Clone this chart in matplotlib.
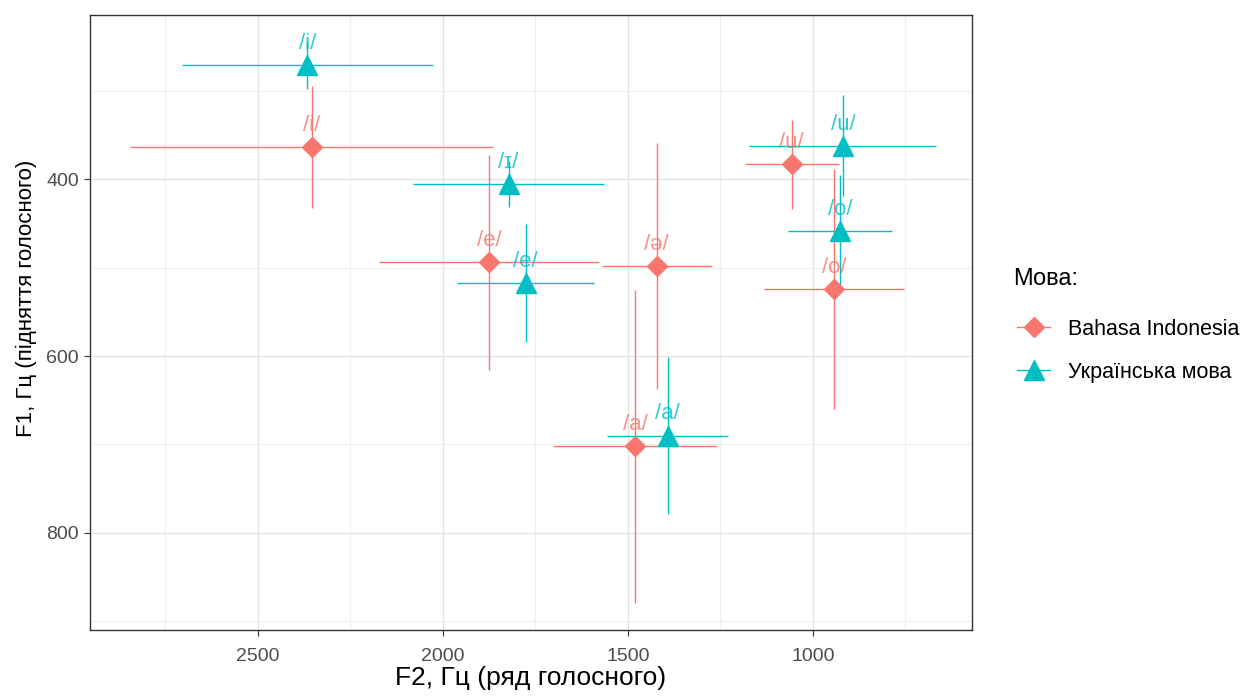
import matplotlib
matplotlib.use("Agg")
import matplotlib.pyplot as plt
from matplotlib.lines import Line2D
from matplotlib.ticker import FixedLocator

plt.rcParams['font.family'] = ['Liberation Sans', 'DejaVu Sans']

# Bahasa Indonesia
vowels_id = ['/i/', '/e/', '/ə/', '/a/', '/u/', '/o/']
f2_id = [2354, 1875, 1422, 1480, 1057, 943]
f2_sd_id = [490, 297, 149, 221, 127, 188]
f1_id = [363, 494, 498, 702, 383, 524]
f1_sd_id = [69, 122, 139, 177, 50, 136]

# Українська мова
vowels_ua = ['/i/', '/ɪ/', '/e/', '/a/', '/u/', '/o/']
f2_ua = [2366, 1822, 1776, 1392, 919, 926]
f2_sd_ua = [339, 257, 186, 164, 253, 140]
f1_ua = [271, 405, 517, 690, 362, 459]
f1_sd_ua = [27, 26, 67, 89, 57, 64]

languages = ['Bahasa Indonesia', 'Українська мова']
legend_title = 'Мова:'

col_id = '#F8766D'
col_ua = '#00BFC4'

W, H = 1243, 698
fig = plt.figure(figsize=(W/100, H/100), dpi=100)
ax = fig.add_axes([90/W, 1-630/H, (972-90)/W, (630-15)/H])

ax.errorbar(f2_id, f1_id, xerr=f2_sd_id, yerr=f1_sd_id, fmt='D', color=col_id,
            ms=10, elinewidth=1.0, capsize=0, zorder=3)
ax.errorbar(f2_ua, f1_ua, xerr=f2_sd_ua, yerr=f1_sd_ua, fmt='^', color=col_ua,
            ms=14, elinewidth=1.0, capsize=0, zorder=3)

for v, x, y in zip(vowels_id, f2_id, f1_id):
    ax.annotate(v, (x, y), xytext=(0, 8), textcoords='offset points',
                ha='center', va='bottom', fontsize=16, color=col_id, alpha=0.8, zorder=4)
for v, x, y in zip(vowels_ua, f2_ua, f1_ua):
    ax.annotate(v, (x, y), xytext=(0, 8), textcoords='offset points',
                ha='center', va='bottom', fontsize=16, color=col_ua, alpha=0.8, zorder=4)

ax.set_xlim(2953, 570)
ax.set_ylim(910, 214)
ax.xaxis.set_major_locator(FixedLocator([2500, 2000, 1500, 1000]))
ax.xaxis.set_minor_locator(FixedLocator([2750, 2250, 1750, 1250, 750]))
ax.yaxis.set_major_locator(FixedLocator([400, 600, 800]))
ax.yaxis.set_minor_locator(FixedLocator([300, 500, 700, 900]))
ax.grid(True, which='major', color='#E3E3E3', lw=1.0, zorder=0)
ax.grid(True, which='minor', color='#EEEEEE', lw=0.8, zorder=0)
ax.set_axisbelow(True)
ax.tick_params(which='major', length=4, color='#333333', labelsize=14, labelcolor='#4D4D4D')
ax.tick_params(axis='x', which='major', pad=9)
ax.tick_params(axis='y', which='major', pad=4)
ax.tick_params(which='minor', length=0)
for s in ax.spines.values():
    s.set_color('#333333')
    s.set_linewidth(1.0)

ax.set_xlabel('F2, Гц (ряд голосного)', fontsize=19, color='black', labelpad=1)
ax.set_ylabel('F1, Гц (підняття голосного)', fontsize=16, color='black')
ax.yaxis.set_label_coords(-0.060, (630-298.5)/615)

fig.text(1013/W, 1-279/H, legend_title, fontsize=17, ha='left', va='center')

handles = [
    Line2D([], [], color=col_id, marker='D', ms=10, lw=1.0),
    Line2D([], [], color=col_ua, marker='^', ms=14, lw=1.0),
]
leg = fig.legend(handles, languages,
                 loc='upper left', bbox_to_anchor=(1017/W, 1-319/H),
                 frameon=False, fontsize=15.5, borderpad=0,
                 handlelength=1.55, handletextpad=0.8, labelspacing=1.0,
                 borderaxespad=0)

fig.savefig('out.png', dpi=100)
